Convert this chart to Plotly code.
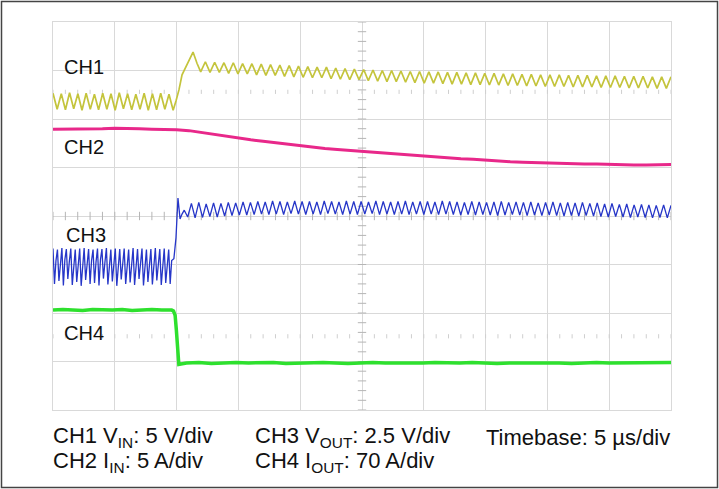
import numpy as np
import plotly.graph_objects as go

# time in microseconds (5 us/div, 10 div), amplitude in screen divisions (8 div)
ch2_values = [5.79, 5.79, 5.80, 5.79, 5.80, 5.81, 5.81, 5.80, 5.79, 5.79, 5.78,
              5.76, 5.72, 5.68, 5.64, 5.60, 5.57, 5.54, 5.51, 5.47, 5.44,
              5.41, 5.39, 5.37, 5.35, 5.33, 5.31, 5.29, 5.27, 5.25, 5.23,
              5.21, 5.20, 5.18, 5.17, 5.15, 5.13, 5.12, 5.11, 5.10, 5.09,
              5.09, 5.08, 5.07, 5.07, 5.06, 5.05, 5.05, 5.05, 5.05, 5.06]

ch1_pre_hi = [6.53, 6.52, 6.54, 6.52, 6.53, 6.51, 6.53, 6.52, 6.54, 6.52, 6.51, 6.53, 6.52, 6.53, 6.51]
ch1_pre_lo = [6.20, 6.19, 6.21, 6.18, 6.20, 6.19, 6.20, 6.18, 6.21, 6.19, 6.20, 6.18, 6.19, 6.20, 6.18]
ch1_step_t = [9.95, 10.19, 10.44, 10.76, 11.08, 11.33, 11.65]
ch1_step_v = [6.37, 6.60, 6.91, 7.09, 7.26, 7.38, 7.15]
ch1_post_lo = [6.97, 6.96, 6.96, 6.94, 6.93, 6.93, 6.91, 6.90, 6.90, 6.88, 6.87, 6.86, 6.85,
               6.85, 6.83, 6.82, 6.81, 6.81, 6.79, 6.78, 6.77, 6.77, 6.76, 6.75, 6.74, 6.74,
               6.73, 6.72, 6.72, 6.71, 6.71, 6.70, 6.70, 6.69, 6.69, 6.68, 6.68, 6.67, 6.67,
               6.67, 6.66, 6.66, 6.66, 6.65, 6.65, 6.65, 6.64, 6.64, 6.64, 6.63, 6.63]
ch1_post_hi = [7.18, 7.17, 7.16, 7.16, 7.14, 7.14, 7.13, 7.12, 7.11, 7.10, 7.09, 7.08, 7.07,
               7.07, 7.05, 7.04, 7.03, 7.02, 7.01, 7.00, 7.00, 6.99, 6.98, 6.98, 6.97, 6.97,
               6.96, 6.96, 6.95, 6.95, 6.94, 6.94, 6.93, 6.93, 6.92, 6.92, 6.91, 6.91, 6.91,
               6.90, 6.90, 6.90, 6.89, 6.89, 6.89, 6.88, 6.88, 6.88, 6.87, 6.87, 6.87]

ch3_pre_top = [3.33, 3.31, 3.34, 3.32, 3.33, 3.31, 3.33, 3.34, 3.32, 3.31, 3.33, 3.32, 3.34, 3.31,
               3.33, 3.32, 3.33, 3.31, 3.34, 3.32, 3.33, 3.31, 3.32, 3.34, 3.32, 3.33, 3.31]
ch3_pre_spike = [2.60, 2.66, 2.57, 2.70, 2.58, 2.64, 2.56, 2.68, 2.60, 2.62, 2.57, 2.71, 2.59, 2.65,
                 2.56, 2.69, 2.60, 2.63, 2.58, 2.70, 2.57, 2.64, 2.59, 2.67, 2.58, 2.62, 2.60]
ch3_pre_body = [3.08, 3.04, 3.10, 3.06, 3.05, 3.09, 3.03, 3.07, 3.08, 3.05, 3.10, 3.04, 3.06, 3.09,
                3.05, 3.07, 3.04, 3.08, 3.06, 3.10, 3.05, 3.07, 3.04, 3.09, 3.06, 3.05, 3.08]
ch3_step_t = [9.78, 9.95, 10.11, 10.28, 10.44, 10.62]
ch3_step_v = [3.12, 3.55, 4.37, 3.94, 4.04, 4.12]
ch3_post_lo = [3.98, 3.96, 3.97, 3.99, 3.98, 4.00, 4.01, 4.02, 4.02,
               4.03, 4.04, 4.03, 4.04, 4.03, 4.05, 4.04, 4.03, 4.04, 4.03, 4.05, 4.04, 4.03, 4.04,
               4.03, 4.04, 4.05, 4.03, 4.04, 4.03, 4.04, 4.03, 4.04, 4.03, 4.04, 4.03, 4.04,
               4.03, 4.02, 4.03, 4.02, 4.03, 4.02, 4.01, 4.02, 4.03, 4.02, 4.01, 4.02, 4.01,
               4.02, 4.01, 4.00, 4.01, 4.00, 4.01, 4.00,
               3.99, 3.98, 3.99, 3.98, 3.97, 3.98, 3.97, 3.96, 3.97, 3.96]
ch3_post_hi = [4.26, 4.28, 4.25, 4.27, 4.26, 4.28, 4.27, 4.29, 4.28,
               4.30, 4.29, 4.31, 4.30, 4.29, 4.31, 4.30, 4.30, 4.29, 4.31, 4.30, 4.29, 4.31, 4.30,
               4.30, 4.29, 4.31, 4.30, 4.29, 4.30, 4.31, 4.29, 4.30, 4.30, 4.29, 4.31, 4.30,
               4.29, 4.28, 4.30, 4.29, 4.28, 4.29, 4.30, 4.28, 4.29, 4.28, 4.29, 4.27, 4.28,
               4.29, 4.27, 4.28, 4.27, 4.28, 4.26, 4.27,
               4.25, 4.26, 4.24, 4.25, 4.23, 4.24, 4.23, 4.22, 4.23, 4.22]

ch4_pre = [2.06, 2.07, 2.06, 2.05, 2.07, 2.06, 2.06, 2.07, 2.05, 2.06, 2.07, 2.06, 2.06]
ch4_step_t = [9.75, 9.88, 9.98, 10.08, 10.18, 10.35]
ch4_step_v = [2.04, 1.95, 1.65, 1.20, 0.94, 0.95]
ch4_post = [0.97, 0.98, 0.96, 0.97, 0.98, 0.97, 0.97, 0.98, 0.96, 0.97, 0.97, 0.98, 0.97, 0.96,
            0.97, 0.98, 0.97, 0.97, 0.96, 0.97, 0.98, 0.97, 0.97, 0.98, 0.97, 0.96, 0.97, 0.97,
            0.98, 0.97, 0.97, 0.96, 0.97, 0.98, 0.97, 0.97, 0.98, 0.97, 0.97, 0.98]

trigger_time = 10.0
trigger_level = 1.52
ch1_ref_level = 6.56

channel_labels = ["CH1", "CH2", "CH3", "CH4"]
channel_label_pos = [(0.7, 7.07), (0.7, 5.42), (0.85, 3.61), (0.7, 1.59)]
scale_lines = [
    ("CH1 V<sub>IN</sub>: 5 V/div", "CH2 I<sub>IN</sub>: 5 A/div"),
    ("CH3 V<sub>OUT</sub>: 2.5 V/div", "CH4 I<sub>OUT</sub>: 70 A/div"),
    ("Timebase: 5 µs/div", ""),
]

FONT = "Liberation Sans, Arial, Helvetica, sans-serif"
GRID = "#d9d9d9"


def interleave(*cols):
    return [v for group in zip(*cols) for v in group]


def segments(parts):
    """parts: list of (t0, t1, values) or (times, values)"""
    t_all, v_all = [], []
    for p in parts:
        if len(p) == 3:
            t0, t1, vals = p
            t_all += list(np.linspace(t0, t1, len(vals)))
        else:
            t_all += list(p[0])
            vals = p[1]
        v_all += list(vals)
    return t_all, v_all


ch1_t, ch1_v = segments([
    (0.0, 9.72, interleave(ch1_pre_hi, ch1_pre_lo)),
    (ch1_step_t, ch1_step_v),
    (11.95, 50.0, interleave(ch1_post_lo, ch1_post_hi)),
])
ch2_t = list(np.arange(len(ch2_values)) * 1.0)
ch3_t, ch3_v = segments([
    (0.0, 9.6, interleave(ch3_pre_top, ch3_pre_spike, ch3_pre_body)),
    (ch3_step_t, ch3_step_v),
    (10.9, 50.0, interleave(ch3_post_lo, ch3_post_hi)),
])
ch4_t, ch4_v = segments([
    (0.0, 9.6, ch4_pre),
    (ch4_step_t, ch4_step_v),
    (10.8, 50.0, ch4_post),
])

fig = go.Figure()

# center-line minor ticks and reference dots
ytick = np.arange(0, 8.01, 0.2)
xtick = np.arange(0, 50.01, 1.0)
fig.add_trace(go.Scatter(x=[25] * len(ytick), y=ytick, mode="markers",
                         marker=dict(symbol="line-ew", size=6, line=dict(color="#b5b5b5", width=1)),
                         hoverinfo="skip"))
fig.add_trace(go.Scatter(x=xtick, y=[4] * len(xtick), mode="markers",
                         marker=dict(symbol="line-ns", size=6, line=dict(color="#b5b5b5", width=1)),
                         hoverinfo="skip"))
for lvl in (ch1_ref_level, trigger_level):
    fig.add_trace(go.Scatter(x=xtick, y=[lvl] * len(xtick), mode="markers",
                             marker=dict(symbol="line-ns", size=3, line=dict(color="#cfcfcf", width=1)),
                             hoverinfo="skip"))

fig.add_trace(go.Scatter(x=ch2_t, y=ch2_values, mode="lines", line=dict(color="#e8288a", width=3)))
fig.add_trace(go.Scatter(x=ch4_t, y=ch4_v, mode="lines", line=dict(color="#2ee02e", width=3.5)))
fig.add_trace(go.Scatter(x=ch3_t, y=ch3_v, mode="lines", line=dict(color="#2636c8", width=1.3)))
fig.add_trace(go.Scatter(x=ch1_t, y=ch1_v, mode="lines", line=dict(color="#c4c43c", width=1.7)))

# trigger markers
fig.add_trace(go.Scatter(x=[trigger_time], y=[-0.06], mode="markers", cliponaxis=False,
                         marker=dict(symbol="triangle-up", size=6, color="#2ee02e"), hoverinfo="skip"))
fig.add_trace(go.Scatter(x=[50.35], y=[trigger_level], mode="markers", cliponaxis=False,
                         marker=dict(symbol="triangle-left", size=6, color="#2ee02e"), hoverinfo="skip"))

for name, (x, y) in zip(channel_labels, channel_label_pos):
    fig.add_annotation(x=x, y=y, text=name, showarrow=False, xanchor="left", yanchor="middle",
                       font=dict(family=FONT, size=20, color="#111"))

col_x = [-0.004, 0.323, 0.698]
for cx, (l1, l2) in zip(col_x, scale_lines):
    fig.add_annotation(x=cx, y=-0.07, xref="paper", yref="paper", text=l1, showarrow=False,
                       xanchor="left", yanchor="middle", font=dict(family=FONT, size=22, color="#111"))
    if l2:
        fig.add_annotation(x=cx, y=-0.135, xref="paper", yref="paper", text=l2, showarrow=False,
                           xanchor="left", yanchor="middle", font=dict(family=FONT, size=22, color="#111"))

# outer frame
fig.add_shape(type="rect", xref="paper", yref="paper",
              x0=-51.5 / 618, x1=1 + 46.5 / 618, y0=-77.5 / 388, y1=1 + 20.5 / 388,
              line=dict(color="#444", width=1.5))

fig.update_layout(
    width=719, height=489,
    margin=dict(l=53, r=48, t=22, b=79),
    paper_bgcolor="white", plot_bgcolor="white",
    showlegend=False,
    xaxis=dict(range=[0, 50], dtick=5, showgrid=True, gridcolor=GRID, gridwidth=1,
               showticklabels=False, ticks="", zeroline=False,
               showline=True, mirror=True, linecolor=GRID, linewidth=1),
    yaxis=dict(range=[0, 8], dtick=1, showgrid=True, gridcolor=GRID, gridwidth=1,
               showticklabels=False, ticks="", zeroline=False,
               showline=True, mirror=True, linecolor=GRID, linewidth=1),
)

fig.write_html("out.html", config={"displayModeBar": False},
               post_script="document.body.style.margin='0';")
